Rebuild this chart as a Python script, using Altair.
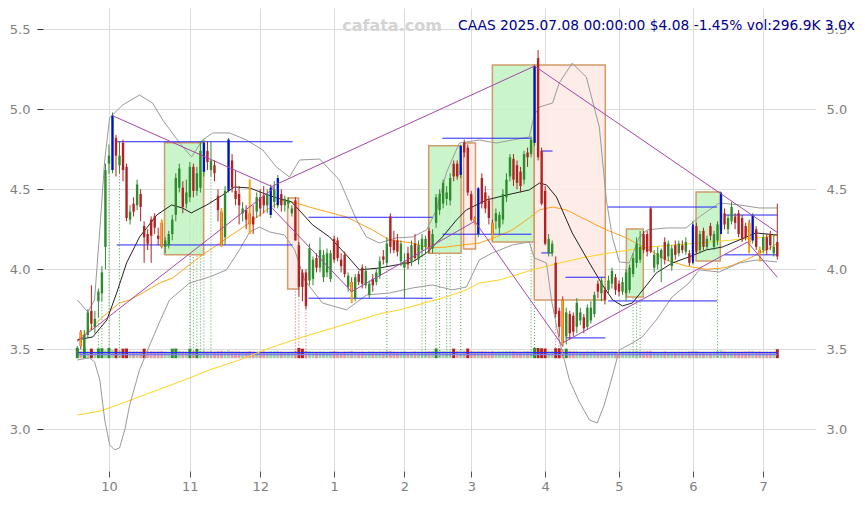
import altair as alt
import pandas as pd

# ---------------- data (trading-day index 0 = 2024-09-18 ... 199 = 2025-07-08) ----------------
opens = [3.47, 3.61, 3.50, 3.59, 3.74, 3.64, 3.80, 3.85, 4.14, 4.66,
         4.62, 4.82, 4.65, 4.79, 4.64, 4.31, 4.41, 4.40, 4.47, 4.27,
         4.22, 4.31, 4.33, 4.21, 4.29, 4.14, 4.15, 4.22, 4.34, 4.51,
         4.51, 4.41, 4.45, 4.64, 4.49, 4.51, 4.61, 4.74, 4.62, 4.65,
         4.46, 4.36, 4.20, 4.49, 4.68, 4.49, 4.47, 4.35, 4.37, 4.35,
         4.33, 4.36, 4.45, 4.46, 4.40, 4.34, 4.42, 4.40, 4.47, 4.40,
         4.41, 4.35, 4.43, 4.15, 3.98, 3.98, 3.93, 3.94, 4.07, 4.01,
         3.95, 3.98, 3.94, 4.19, 4.18, 4.06, 4.09, 3.89, 3.92, 3.82,
         3.97, 4.01, 3.90, 3.84, 3.94, 3.92, 3.96, 4.08, 4.04, 4.33,
         4.18, 4.18, 4.05, 4.01, 4.10, 4.05, 4.16, 4.06, 4.12, 4.14,
         4.24, 4.13, 4.29, 4.37, 4.41, 4.44, 4.43, 4.66, 4.66, 4.59,
         4.79, 4.76, 4.47, 4.32, 4.22, 4.57, 4.48, 4.43, 4.29, 4.30,
         4.26, 4.31, 4.45, 4.58, 4.69, 4.65, 4.61, 4.56, 4.73, 4.72,
         4.79, 5.32, 4.74, 4.49, 4.10, 4.10, 4.04, 3.74, 3.81, 3.58,
         3.72, 3.71, 3.64, 3.68, 3.70, 3.64, 3.68, 3.72, 3.91, 3.85,
         3.87, 3.87, 3.91, 3.95, 3.91, 3.86, 3.85, 3.87, 3.97, 4.04,
         4.06, 4.22, 4.22, 4.38, 4.01, 4.03, 4.07, 4.17, 4.08, 4.02,
         4.15, 4.10, 4.15, 4.11, 4.10, 4.05, 4.27, 4.12, 4.24, 4.14,
         4.27, 4.14, 4.18, 4.25, 4.35, 4.25, 4.30, 4.33, 4.35, 4.32,
         4.27, 4.29, 4.18, 4.25, 4.12, 4.12, 4.20, 4.22, 4.10, 4.17]
highs = [3.52, 3.62, 3.62, 3.75, 3.90, 3.74, 3.88, 4.02, 4.66, 4.78,
         4.98, 4.84, 4.80, 4.81, 4.66, 4.40, 4.45, 4.56, 4.50, 4.30,
         4.25, 4.33, 4.35, 4.26, 4.31, 4.20, 4.24, 4.34, 4.60, 4.66,
         4.55, 4.56, 4.67, 4.66, 4.64, 4.80, 4.81, 4.80, 4.80, 4.68,
         4.50, 4.38, 4.52, 4.82, 4.72, 4.62, 4.52, 4.42, 4.40, 4.56,
         4.40, 4.48, 4.50, 4.52, 4.50, 4.53, 4.55, 4.59, 4.50, 4.46,
         4.45, 4.40, 4.45, 4.17, 4.00, 4.00, 4.16, 4.08, 4.10, 4.20,
         4.12, 4.13, 4.12, 4.21, 4.20, 4.10, 4.11, 3.98, 3.95, 3.97,
         3.99, 4.03, 4.02, 3.93, 3.97, 4.00, 4.08, 4.12, 4.20, 4.35,
         4.24, 4.22, 4.18, 4.10, 4.14, 4.18, 4.22, 4.18, 4.22, 4.21,
         4.26, 4.25, 4.47, 4.50, 4.56, 4.52, 4.60, 4.68, 4.68, 4.78,
         4.81, 4.78, 4.49, 4.33, 4.51, 4.60, 4.52, 4.46, 4.31, 4.38,
         4.36, 4.50, 4.60, 4.72, 4.72, 4.68, 4.64, 4.74, 4.76, 4.83,
         5.28, 5.37, 4.76, 4.52, 4.22, 4.18, 4.08, 3.76, 3.83, 3.76,
         3.74, 3.73, 3.82, 3.76, 3.72, 3.78, 3.80, 3.86, 3.93, 3.95,
         3.89, 3.96, 4.01, 3.97, 3.93, 3.95, 4.00, 4.03, 4.10, 4.20,
         4.24, 4.24, 4.24, 4.39, 4.12, 4.14, 4.13, 4.20, 4.18, 4.15,
         4.18, 4.18, 4.18, 4.20, 4.12, 4.30, 4.29, 4.24, 4.26, 4.21,
         4.29, 4.24, 4.30, 4.48, 4.38, 4.34, 4.42, 4.35, 4.37, 4.34,
         4.29, 4.31, 4.35, 4.27, 4.14, 4.22, 4.22, 4.24, 4.22, 4.41]
lows = [3.46, 3.50, 3.48, 3.57, 3.62, 3.60, 3.70, 3.80, 4.00, 4.60,
        4.60, 4.58, 4.60, 4.55, 4.30, 4.28, 4.33, 4.37, 4.30, 4.04,
        4.12, 4.04, 4.22, 4.15, 4.13, 4.10, 4.13, 4.18, 4.30, 4.48,
        4.35, 4.38, 4.42, 4.45, 4.46, 4.48, 4.58, 4.62, 4.58, 4.55,
        4.30, 4.14, 4.15, 4.48, 4.48, 4.40, 4.28, 4.30, 4.25, 4.22,
        4.22, 4.32, 4.33, 4.35, 4.35, 4.32, 4.38, 4.38, 4.36, 4.36,
        4.38, 4.33, 4.18, 3.83, 3.80, 3.75, 3.90, 3.90, 3.98, 3.98,
        3.92, 3.95, 3.92, 4.04, 4.05, 3.98, 3.95, 3.86, 3.79, 3.80,
        3.90, 3.88, 3.88, 3.82, 3.86, 3.90, 3.94, 4.03, 4.02, 4.10,
        4.10, 4.08, 4.02, 3.82, 4.00, 4.02, 4.05, 4.03, 4.08, 4.10,
        4.10, 4.10, 4.26, 4.34, 4.38, 4.40, 4.40, 4.55, 4.56, 4.57,
        4.70, 4.46, 4.30, 4.28, 4.20, 4.38, 4.35, 4.28, 4.18, 4.25,
        4.22, 4.28, 4.42, 4.55, 4.52, 4.50, 4.48, 4.53, 4.64, 4.70,
        4.77, 4.68, 4.40, 4.15, 4.08, 4.08, 3.70, 3.58, 3.52, 3.53,
        3.56, 3.58, 3.60, 3.65, 3.60, 3.62, 3.66, 3.70, 3.82, 3.80,
        3.78, 3.85, 3.88, 3.84, 3.83, 3.84, 3.80, 3.85, 3.95, 4.01,
        4.04, 4.10, 4.08, 4.10, 3.98, 4.00, 3.92, 4.03, 4.05, 3.99,
        4.06, 4.08, 4.10, 4.09, 4.02, 4.03, 4.10, 4.10, 4.12, 4.12,
        4.18, 4.12, 4.15, 4.22, 4.25, 4.22, 4.28, 4.25, 4.20, 4.17,
        4.18, 4.10, 4.16, 4.12, 4.05, 4.10, 4.09, 4.12, 4.08, 4.06]
closes = [3.51, 3.52, 3.59, 3.73, 3.66, 3.69, 3.86, 3.98, 4.62, 4.71,
          4.96, 4.71, 4.71, 4.62, 4.32, 4.36, 4.36, 4.53, 4.39, 4.20,
          4.16, 4.21, 4.26, 4.19, 4.14, 4.18, 4.22, 4.31, 4.57, 4.63,
          4.39, 4.48, 4.64, 4.49, 4.60, 4.74, 4.79, 4.67, 4.68, 4.60,
          4.37, 4.15, 4.49, 4.81, 4.51, 4.44, 4.40, 4.38, 4.31, 4.28,
          4.28, 4.45, 4.38, 4.40, 4.47, 4.51, 4.50, 4.57, 4.40, 4.44,
          4.43, 4.38, 4.18, 3.89, 3.89, 3.77, 4.13, 4.06, 4.01, 4.12,
          4.09, 4.10, 4.10, 4.06, 4.07, 4.02, 3.97, 3.96, 3.86, 3.95,
          3.92, 3.91, 3.99, 3.91, 3.90, 3.98, 4.05, 4.06, 4.16, 4.14,
          4.12, 4.11, 4.16, 4.05, 4.03, 4.15, 4.07, 4.15, 4.19, 4.19,
          4.14, 4.22, 4.45, 4.47, 4.54, 4.48, 4.57, 4.58, 4.58, 4.77,
          4.73, 4.48, 4.31, 4.30, 4.50, 4.41, 4.38, 4.32, 4.22, 4.35,
          4.34, 4.47, 4.56, 4.70, 4.56, 4.54, 4.52, 4.72, 4.70, 4.81,
          5.27, 4.70, 4.41, 4.16, 4.19, 4.16, 3.72, 3.64, 3.54, 3.73,
          3.60, 3.61, 3.79, 3.73, 3.63, 3.76, 3.76, 3.84, 3.86, 3.93,
          3.81, 3.93, 3.99, 3.87, 3.86, 3.92, 3.98, 4.01, 4.07, 4.16,
          4.14, 4.12, 4.11, 4.11, 4.09, 4.10, 4.12, 4.06, 4.16, 4.13,
          4.09, 4.16, 4.12, 4.17, 4.04, 4.27, 4.11, 4.22, 4.14, 4.19,
          4.21, 4.22, 4.28, 4.47, 4.28, 4.32, 4.39, 4.29, 4.22, 4.19,
          4.20, 4.16, 4.34, 4.14, 4.10, 4.20, 4.12, 4.15, 4.14, 4.08]
volumes_k = [330, 230, 320, 230, 315, 220, 320, 330, 250, 335,
             260, 320, 240, 315, 320, 230, 225, 230, 225, 315,
             230, 235, 225, 230, 240, 225, 220, 315, 320, 235,
             230, 225, 315, 235, 310, 240, 245, 230, 235, 225,
             240, 245, 235, 255, 235, 225, 230, 220, 225, 235,
             225, 220, 225, 230, 225, 235, 230, 240, 225, 220,
             220, 225, 245, 335, 315, 240, 235, 225, 220, 230,
             225, 220, 230, 235, 225, 220, 225, 230, 240, 225,
             220, 225, 220, 230, 225, 220, 230, 225, 235, 240,
             225, 220, 225, 230, 220, 225, 230, 225, 235, 230,
             235, 240, 320, 245, 240, 235, 245, 315, 240, 255,
             245, 320, 240, 230, 245, 235, 230, 225, 235, 225,
             230, 235, 240, 245, 235, 230, 225, 240, 235, 245,
             340, 335, 325, 320, 245, 240, 330, 325, 260, 315,
             240, 235, 240, 230, 225, 235, 230, 240, 225, 230,
             225, 230, 235, 225, 220, 230, 240, 245, 240, 245,
             235, 230, 240, 245, 225, 220, 225, 230, 220, 225,
             220, 225, 220, 225, 230, 245, 235, 225, 220, 225,
             220, 225, 240, 255, 230, 225, 230, 225, 220, 225,
             230, 240, 245, 225, 230, 220, 225, 220, 230, 297]

# highlighted candles
blue_idx = [10, 36, 43, 55, 57, 109, 114, 130, 175, 183, 192]
blue_lo = [4.62, 4.61, 4.49, 4.34, 4.40, 4.59, 4.22, 4.79, 4.04, 4.22, 4.18]
blue_hi = [4.96, 4.79, 4.81, 4.51, 4.57, 4.77, 4.51, 5.27, 4.28, 4.48, 4.34]
orange_idx = [1, 24, 41, 49, 78, 113, 118, 138, 191, 194]
orange_lo = [3.52, 4.14, 4.14, 4.22, 3.79, 4.28, 4.18, 3.52, 4.10, 4.05]
orange_hi = [3.61, 4.31, 4.38, 4.56, 3.92, 4.32, 4.29, 3.81, 4.29, 4.14]

# signal days (dotted verticals)
green_sig = [6, 7, 9, 12, 32, 33, 34, 35, 36, 38, 88, 98, 99, 102, 103, 105, 106, 109, 129, 130, 158, 159, 160, 182]
red_sig = [62, 63, 65, 136, 137, 138]

# moving average (20)
ma20_i = [0, 4.4, 8.4, 11.2, 14.0, 17.7, 22.6, 26.8, 29.9, 32.4, 36.8, 40.5, 44.7, 49.0, 52.7, 56.6, 60.9,
          63.8, 66.9, 71.7, 76.5, 80.2, 85.9, 90.7, 95.3, 99.3, 103.8, 107.8, 110.6, 116.3, 122.0, 128.5,
          131.4, 133.4, 136.2, 140.7, 145.6, 149.3, 152.2, 155.0, 157.8, 161.2, 164.6, 169.1, 173.9, 178.8,
          183.4, 188.2, 192.9, 199]
ma20_v = [3.558, 3.577, 3.683, 3.852, 4.039, 4.202, 4.339, 4.402, 4.383, 4.352, 4.402, 4.452, 4.514, 4.508,
          4.477, 4.446, 4.421, 4.352, 4.277, 4.202, 4.089, 3.996, 4.008, 4.027, 4.046, 4.102, 4.202, 4.308,
          4.371, 4.433, 4.464, 4.496, 4.539, 4.527, 4.452, 4.227, 4.039, 3.902, 3.808, 3.771, 3.789, 3.883,
          3.977, 4.039, 4.077, 4.121, 4.139, 4.183, 4.227, 4.214]
# moving average (50)
ma50_i = [0, 3.5, 7.2, 12.0, 14.9, 18.6, 23.4, 27.1, 34.8, 40.5, 48.1, 53.8, 58.4, 62.3, 66.9, 76.5, 83.9,
          88.8, 95.3, 100.1, 104.9, 109.5, 114.3, 119.1, 123.7, 128.5, 131.4, 135.1, 139.0, 144.7, 150.4,
          156.1, 159.8, 162.6, 167.4, 173.1, 178.8, 184.4, 190.2, 193.9, 199]
ma50_v = [3.558, 3.621, 3.702, 3.789, 3.808, 3.852, 3.914, 3.946, 4.077, 4.164, 4.277, 4.371, 4.433, 4.414,
          4.383, 4.327, 4.246, 4.183, 4.164, 4.133, 4.139, 4.152, 4.164, 4.202, 4.246, 4.321, 4.371, 4.389,
          4.371, 4.308, 4.246, 4.196, 4.152, 4.121, 4.058, 4.020, 4.000, 4.010, 4.060, 4.100, 4.160]
# moving average (200)
ma200_i = [0, 6.4, 12.0, 20.6, 29.1, 37.6, 46.1, 54.7, 63.2, 70.9, 85.9, 91.6, 104.9, 110.6, 114.3, 120.0,
           129.4, 137.0, 144.7, 153.2, 162.6, 176.8, 186.2, 195.9, 199]
ma200_v = [3.089, 3.113, 3.156, 3.227, 3.296, 3.371, 3.433, 3.508, 3.571, 3.621, 3.721, 3.746, 3.827, 3.871,
           3.914, 3.933, 3.996, 4.039, 4.077, 4.108, 4.139, 4.164, 4.183, 4.202, 4.214]
# Bollinger bands
bb_up_i = [0, 3.0, 4.9, 6.4, 7.8, 9.2, 12.9, 17.7, 21.4, 24.3, 29.1, 32.5, 35.6, 38.5, 43.3, 48.1, 52.7, 56.6,
           60.3, 63.2, 68.9, 74.5, 79.4, 82.2, 85.9, 90.7, 95.3, 99.3, 102.1, 104.9, 108.6, 114.3, 119.1,
           123.7, 128.5, 129.9, 131.4, 135.1, 137.0, 140.7, 144.7, 148.4, 150.4, 152.1, 154.1, 156.9, 159.8,
           162.0, 167.4, 173.1, 176.8, 182.5, 188.2, 193.9, 199]
bb_up_v = [3.808, 3.733, 3.808, 4.246, 4.683, 4.946, 5.027, 5.089, 5.039, 4.933, 4.789, 4.702, 4.808, 4.852,
           4.852, 4.808, 4.746, 4.639, 4.577, 4.683, 4.689, 4.558, 4.308, 4.202, 4.164, 4.196, 4.202, 4.246,
           4.371, 4.602, 4.789, 4.808, 4.789, 4.808, 4.827, 4.964, 5.014, 5.039, 5.164, 5.289, 5.202, 4.889,
           4.433, 4.202, 4.046, 4.039, 4.202, 4.246, 4.258, 4.258, 4.327, 4.414, 4.402, 4.383, 4.383]
bb_lo_i = [0, 3.5, 4.9, 6.4, 7.8, 9.2, 10.6, 12.0, 13.5, 14.9, 17.7, 20.6, 23.4, 26.2, 31.9, 37.6, 42.4, 46.1,
           49.0, 51.8, 54.7, 58.9, 61.8, 64.6, 69.7, 76.5, 82.2, 88.8, 95.3, 100.9, 106.6, 110.6, 114.3,
           118.0, 123.7, 128.5, 129.9, 133.4, 134.8, 137.0, 139.9, 142.7, 145.6, 147.8, 149.8, 151.8, 154.1,
           157.8, 160.6, 164.6, 169.1, 173.9, 176.8, 182.5, 188.2, 193.0, 199]
bb_lo_v = [3.433, 3.446, 3.421, 3.308, 3.058, 2.902, 2.871, 2.883, 2.996, 3.152, 3.371, 3.527, 3.671, 3.808,
           3.914, 3.952, 3.996, 4.121, 4.233, 4.264, 4.233, 4.214, 4.121, 3.933, 3.789, 3.746, 3.839, 3.852,
           3.883, 3.902, 3.871, 3.889, 4.058, 4.102, 4.152, 4.171, 4.071, 4.039, 3.808, 3.558, 3.308, 3.171,
           3.058, 3.039, 3.152, 3.308, 3.496, 3.539, 3.577, 3.683, 3.827, 3.914, 3.996, 3.983, 4.039, 4.058,
           4.046]

# trend / zigzag segments (index, price) -> (index, price)
seg_i1 = [0, 10, 55.5, 55.5, 78, 113, 130, 138, 190.5]
seg_v1 = [3.55, 4.96, 4.38, 4.52, 3.86, 4.30, 5.27, 3.54, 4.17]
seg_i2 = [56, 56, 78, 130, 113, 138, 199, 190.5, 199]
seg_v2 = [4.51, 4.51, 3.86, 5.27, 4.30, 3.52, 4.23, 4.17, 3.95]

# consolidation boxes
box_i1 = [24.8, 99.9, 118.0, 156.1, 175.9, 59.8, 109.8, 129.9]
box_i2 = [35.9, 109.1, 129.9, 160.9, 182.8, 62.9, 113.2, 150.1]
box_v1 = [4.09, 4.10, 4.171, 3.827, 4.052, 3.877, 4.127, 3.808]
box_v2 = [4.79, 4.772, 5.277, 4.252, 4.483, 4.446, 4.789, 5.277]
box_kind = ["up", "up", "up", "up", "up", "down", "down", "down"]

# range levels (resistance / support)
lvl_i1 = [11.2, 11.2, 65.7, 65.7, 103.8, 103.8, 131.9, 131.9, 138.8, 138.8, 150.9, 150.9, 183.9, 183.9]
lvl_i2 = [61.2, 61.2, 101.0, 101.0, 129.1, 129.1, 135.1, 135.1, 150.1, 150.1, 181.9, 181.9, 199.0, 199.0]
lvl_v = [4.797, 4.152, 4.325, 3.819, 4.819, 4.219, 4.739, 4.102, 3.95, 3.571, 4.389, 3.802, 4.339, 4.09]

# volume moving averages drawn in the volume strip
vol_ma_v = [3.479, 3.466]

# axis ticks
y_ticks = [3.0, 3.5, 4.0, 4.5, 5.0, 5.5]
month_idx = [9, 32, 52, 73, 93, 112, 133, 154, 175, 195]
month_lab = ["10", "11", "12", "1", "2", "3", "4", "5", "6", "7"]

title_text = "CAAS 2025.07.08 00:00:00 $4.08 -1.45% vol:296.9K 3.0x"
watermark = "cafata.com"

# ---------------- styling ----------------
GREEN = "#2e8b2e"
RED = "#b22222"
FONT = "DejaVu Sans"
VOL_BASE = 3.444
VOL_SCALE = 0.00019
W, H = 773, 463

xs = alt.Scale(domain=[-9.75, 210], nice=False, zero=False, padding=0)
ys = alt.Scale(domain=[2.739, 5.633], nice=False, zero=False, padding=0)

n = len(opens)
df = pd.DataFrame({"i": list(range(n)), "o": opens, "h": highs, "l": lows, "c": closes, "vol": volumes_k})
df["color"] = [GREEN if c >= o else RED for o, c in zip(df["o"], df["c"])]
df["vtop"] = VOL_BASE + df["vol"] * VOL_SCALE
df["vbase"] = VOL_BASE
df["vop"] = [1.0 if v >= 290 else 0.42 for v in df["vol"]]

label_expr = ""
for v, s in zip(month_idx, month_lab):
    label_expr += f"datum.value == {v} ? '{s}' : "
label_expr += "''"

x_axis = alt.Axis(values=month_idx, labelExpr=label_expr, grid=True, gridColor="#dcdcdc", domain=False,
                  ticks=True, tickSize=6, tickColor="#555555", labelColor="#808080", labelFont=FONT,
                  labelFontSize=13, labelPadding=3, labelAngle=0, labelFlush=False)
y_left = alt.Axis(orient="left", values=y_ticks, format=".1f", grid=True, gridColor="#dcdcdc", domain=False,
                  tickSize=6, tickColor="#333333", labelColor="#808080", labelFont=FONT, labelFontSize=13,
                  labelPadding=7, minExtent=35, maxExtent=35)
y_right = alt.Axis(orient="right", values=y_ticks, format=".1f", grid=False, domain=False, ticks=False,
                   labelColor="#808080", labelFont=FONT, labelFontSize=13, labelPadding=10)


def X(field="i"):
    return alt.X(f"{field}:Q", scale=xs, axis=x_axis, title=None)


def Y(field, axis=None):
    return alt.Y(f"{field}:Q", scale=ys, axis=axis, title=None)


# signal dotted verticals (drawn under the boxes)
sig = pd.DataFrame({"i": green_sig + red_sig,
                    "col": ["#3c9a3c"] * len(green_sig) + ["#d05050"] * len(red_sig)})
sig["top"] = [lows[k] for k in sig["i"]]
sig["base"] = VOL_BASE
sig_layer = alt.Chart(sig).mark_rule(strokeDash=[1, 2], strokeWidth=1, opacity=0.9).encode(
    x=X(), y=Y("top", y_left), y2="base", color=alt.Color("col:N", scale=None))

# boxes
boxes = pd.DataFrame({"i1": box_i1, "i2": box_i2, "v1": box_v1, "v2": box_v2, "kind": box_kind})
box_layer = alt.Chart(boxes).mark_rect(stroke="#d29b6a", strokeWidth=1.5, fillOpacity=0.88).encode(
    x=X("i1"), x2="i2", y=Y("v1"), y2="v2",
    fill=alt.Fill("kind:N", scale=alt.Scale(domain=["up", "down"], range=["#c3f3c3", "#fde9e5"]), legend=None))

# volume
vol_layer = alt.Chart(df).mark_bar(size=3).encode(
    x=X(), y=Y("vtop"), y2="vbase", color=alt.Color("color:N", scale=None), opacity=alt.Opacity("vop:Q", scale=None))
vol_ma = pd.DataFrame({"v": vol_ma_v, "a": [0, 0], "b": [n - 1, n - 1], "col": ["#2b2bff", "#7a7aff"]})
vol_ma_layer = alt.Chart(vol_ma).mark_rule(strokeWidth=1.2).encode(
    x=X("a"), x2="b", y=Y("v"), color=alt.Color("col:N", scale=None))


def line_layer(ix, vals, color, width=1.0):
    d = pd.DataFrame({"i": ix, "v": vals})
    return alt.Chart(d).mark_line(color=color, strokeWidth=width).encode(x=X(), y=Y("v"), order="i:Q")


ma200_layer = line_layer(ma200_i, ma200_v, "#ffd21f")
ma50_layer = line_layer(ma50_i, ma50_v, "#ffa31a")
bbu_layer = line_layer(bb_up_i, bb_up_v, "#9a9a9a")
bbl_layer = line_layer(bb_lo_i, bb_lo_v, "#9a9a9a")
ma20_layer = line_layer(ma20_i, ma20_v, "#222222")

lv = pd.DataFrame({"i1": lvl_i1, "i2": lvl_i2, "v": lvl_v})
lvl_layer = alt.Chart(lv).mark_rule(color="#2424ff", strokeWidth=1).encode(x=X("i1"), x2="i2", y=Y("v"))

wick_layer = alt.Chart(df).mark_rule(strokeWidth=1).encode(
    x=X(), y=Y("l"), y2="h", color=alt.Color("color:N", scale=None))
body_layer = alt.Chart(df).mark_bar(size=2.4).encode(
    x=X(), y=Y("o", y_right), y2="c", color=alt.Color("color:N", scale=None))

mk = pd.DataFrame({"i": blue_idx + orange_idx, "lo": blue_lo + orange_lo, "hi": blue_hi + orange_hi,
                   "col": ["#0000ff"] * len(blue_idx) + ["#ffa500"] * len(orange_idx)})
mk_layer = alt.Chart(mk).mark_bar(size=1.8).encode(
    x=X(), y=Y("lo"), y2="hi", color=alt.Color("col:N", scale=None))

sg = pd.DataFrame({"i1": seg_i1, "v1": seg_v1, "i2": seg_i2, "v2": seg_v2})
seg_layer = alt.Chart(sg).mark_rule(color="#a645a6", strokeWidth=1).encode(
    x=X("i1"), y=Y("v1"), x2="i2", y2="v2")

txt = pd.DataFrame({"t": [watermark], "u": [title_text]})
wm_layer = alt.Chart(txt).mark_text(font=FONT, fontSize=16, fontWeight="bold", color="#d3d3d3",
                                    align="center", baseline="middle").encode(
    text="t:N", x=alt.value(349), y=alt.value(18))
title_layer = alt.Chart(txt).mark_text(font=FONT, fontSize=13.8, color="#00008b",
                                       align="left", baseline="middle").encode(
    text="u:N", x=alt.value(415), y=alt.value(18))

chart = alt.layer(
    sig_layer, box_layer, vol_layer, vol_ma_layer, ma200_layer, ma50_layer, bbu_layer, bbl_layer,
    ma20_layer, lvl_layer, wick_layer, body_layer, mk_layer, seg_layer, wm_layer, title_layer
).resolve_axis(y="independent").properties(
    width=W, height=H, padding=0, background="white"
).configure_view(stroke=None)

chart.save("out.html", embed_options={"renderer": "svg", "actions": False})
